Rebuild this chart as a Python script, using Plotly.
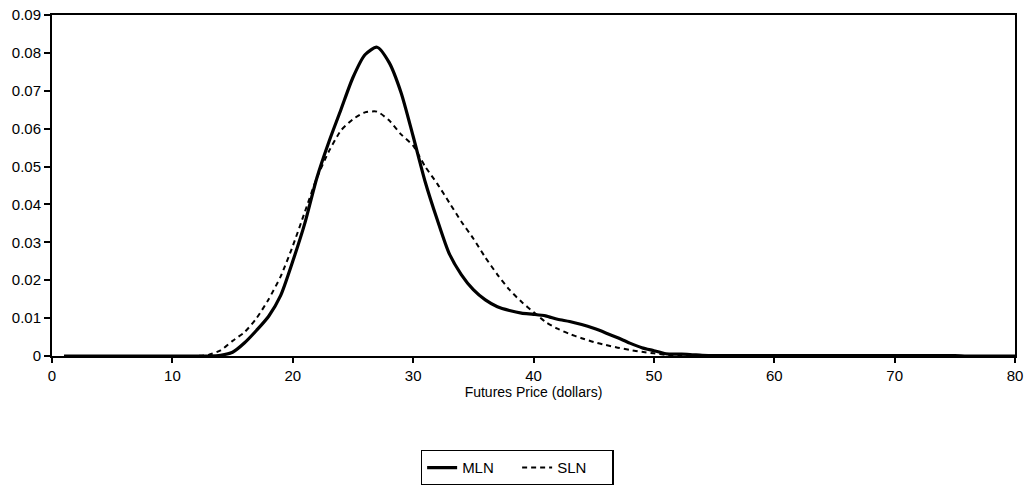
import plotly.graph_objects as go

# Futures price grid (dollars)
price = list(range(1, 81))

# Mixture-of-lognormals density
mln = [
    0, 0, 0, 0, 0, 0, 0, 0, 0, 0,                                  # 1-10
    0, 0, 0, 0.0002, 0.001, 0.0035, 0.0068, 0.0105, 0.016, 0.025,  # 11-20
    0.035, 0.047, 0.0565, 0.065, 0.0735, 0.0795, 0.0815, 0.0775, 0.0695, 0.058,  # 21-30
    0.046, 0.036, 0.027, 0.0215, 0.0175, 0.0148, 0.013, 0.012, 0.0113, 0.011,    # 31-40
    0.0106, 0.0097, 0.0091, 0.0083, 0.0073, 0.0061, 0.0048, 0.0034, 0.0022, 0.0014,  # 41-50
    0.0006, 0.0005, 0.0004, 0.0002, 0.0001, 0.0001, 0.0001, 0.0001, 0.0001, 0.0001,  # 51-60
    0.0001, 0.0001, 0.0001, 0.0001, 0.0001, 0.0001, 0.0001, 0.0001, 0.0001, 0.0001,  # 61-70
    0.0001, 0.0001, 0.0001, 0.0001, 0.0001, 0, 0, 0, 0, 0,         # 71-80
]

# Single-lognormal density
sln = [
    0, 0, 0, 0, 0, 0, 0, 0, 0, 0,                                  # 1-10
    0, 0, 0.0003, 0.0015, 0.004, 0.0063, 0.010, 0.015, 0.021, 0.029,  # 11-20
    0.038, 0.047, 0.054, 0.0595, 0.0625, 0.0643, 0.0645, 0.0622, 0.0585, 0.0555,  # 21-30
    0.050, 0.0455, 0.0405, 0.0355, 0.031, 0.026, 0.0215, 0.0175, 0.0143, 0.0116,  # 31-40
    0.009, 0.0072, 0.0058, 0.0047, 0.0037, 0.0029, 0.0022, 0.0016, 0.0011, 0.0007,  # 41-50
    0.0003, 0, 0, 0, 0, 0, 0, 0, 0, 0,                             # 51-60
    0, 0, 0, 0, 0, 0, 0, 0, 0, 0,                                  # 61-70
    0, 0, 0, 0, 0, 0, 0, 0, 0, 0,                                  # 71-80
]

x_ticks = [0, 10, 20, 30, 40, 50, 60, 70, 80]
y_ticks = [0, 0.01, 0.02, 0.03, 0.04, 0.05, 0.06, 0.07, 0.08, 0.09]
y_tick_text = ["0", "0.01", "0.02", "0.03", "0.04", "0.05", "0.06", "0.07", "0.08", "0.09"]

font_family = "Liberation Sans, Arial, sans-serif"

fig = go.Figure()
fig.add_trace(go.Scatter(
    x=price, y=mln, name="MLN", mode="lines",
    line=dict(color="black", width=3.2, shape="spline", smoothing=0.7),
))
fig.add_trace(go.Scatter(
    x=price, y=sln, name="SLN", mode="lines",
    line=dict(color="black", width=2, dash="5px,4px", shape="spline", smoothing=0.6),
))

fig.update_layout(
    width=1031, height=485,
    margin=dict(l=52, r=16, t=15, b=129, autoexpand=False),
    paper_bgcolor="white", plot_bgcolor="white",
    font=dict(family=font_family, size=15, color="black"),
    showlegend=True,
    legend=dict(
        orientation="h",
        x=0.483, xanchor="center",
        y=-0.275, yanchor="top",
        bordercolor="black", borderwidth=1.5,
        font=dict(size=15, color="black"),
        itemwidth=30,
        entrywidth=50,
        tracegroupgap=0,
    ),
    xaxis=dict(
        range=[0, 80],
        tickvals=x_ticks,
        ticks="outside", ticklen=5, tickwidth=1.5, tickcolor="black",
        showline=True, linecolor="black", linewidth=2, mirror=True,
        showgrid=False, zeroline=False,
        tickfont=dict(size=15),
        title=dict(text="Futures Price (dollars)", font=dict(size=14), standoff=2),
    ),
    yaxis=dict(
        range=[0, 0.09],
        tickvals=y_ticks, ticktext=y_tick_text,
        ticks="outside", ticklen=6, tickwidth=1.5, tickcolor="black",
        showline=True, linecolor="black", linewidth=2, mirror=True,
        showgrid=False, zeroline=False,
        tickfont=dict(size=15),
    ),
)

fig.write_html("out.html")
